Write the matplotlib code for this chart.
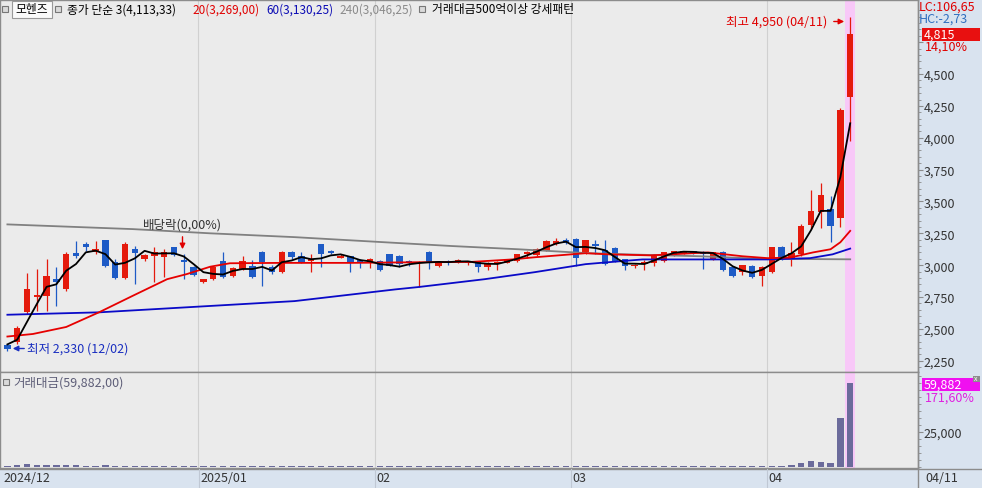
import numpy as np
import matplotlib.pyplot as plt
from matplotlib.patches import Rectangle

plt.rcParams['font.family'] = ['Noto Sans CJK KR', 'DejaVu Sans']

# 일봉 데이터 (2024/12/02 ~ 2025/04/11, 거래일 인덱스 0~86)
opens = [2370, 2395, 2630, 2750, 2760, 2890, 2810, 3095, 3170, 3105,
         3195, 3025, 2900, 3125, 3050, 3070, 3065, 3140, 3040, 2985,
         2870, 2890, 3030, 2915, 2970, 2995, 3100, 2985, 2945, 3100,
         3070, 3030, 3165, 3110, 3060, 3070, 3040, 3020, 3030, 3085,
         3075, 3035, 3020, 3100, 2990, 3030, 3025, 3015, 3025, 2985,
         3010, 3020, 3030, 3085, 3080, 3115, 3170, 3195, 3205, 3100,
         3165, 3120, 3135, 3045, 2990, 3009, 3015, 3030, 3075, 3090,
         3110, 3105, 3045, 3105, 2985, 2945, 2990, 2917, 2945, 3140,
         3053, 3087, 3317, 3419, 3440, 3368, 4320]
highs = [2378, 2520, 2940, 2970, 3050, 2985, 3100, 3190, 3180, 3190,
         3195, 3050, 3180, 3150, 3090, 3140, 3125, 3145, 3085, 2990,
         2895, 2990, 3100, 2985, 3070, 3040, 3110, 3000, 3110, 3115,
         3100, 3085, 3170, 3120, 3090, 3075, 3050, 3055, 3040, 3090,
         3080, 3040, 3030, 3110, 3027, 3040, 3045, 3035, 3027, 3025,
         3030, 3045, 3090, 3110, 3135, 3195, 3210, 3210, 3210, 3200,
         3200, 3200, 3140, 3050, 3010, 3040, 3085, 3105, 3115, 3115,
         3115, 3115, 3105, 3110, 2990, 3005, 3000, 2990, 3145, 3150,
         3182, 3323, 3592, 3645, 3545, 4233, 4950]
lows = [2330, 2380, 2620, 2640, 2640, 2680, 2800, 3060, 3110, 3085,
        2985, 2895, 2895, 2850, 3030, 2870, 2905, 3075, 2895, 2915,
        2862, 2880, 2900, 2910, 2965, 2900, 2835, 2930, 2940, 3050,
        3020, 2950, 2985, 3090, 3055, 2950, 2980, 2975, 2955, 2990,
        2985, 2990, 2830, 2970, 2985, 3000, 3015, 3005, 2948, 2965,
        2965, 3015, 3025, 3060, 3075, 3110, 3160, 3165, 2995, 3090,
        3085, 3000, 3025, 2960, 2980, 2965, 2990, 3025, 3070, 3087,
        3090, 2970, 3040, 2955, 2910, 2925, 2900, 2835, 2940, 3040,
        2995, 3070, 3284, 3289, 3179, 3300, 3975]
closes = [2345, 2510, 2810, 2765, 2915, 2870, 3085, 3072, 3145, 3125,
          2990, 2900, 3165, 3095, 3078, 3100, 3100, 3080, 3025, 2920,
          2890, 2985, 2905, 2975, 3030, 2905, 3025, 2945, 3100, 3065,
          3025, 3050, 3085, 3095, 3075, 3025, 3020, 3045, 2960, 2997,
          3008, 3017, 3025, 3025, 3027, 3020, 3040, 3030, 2983, 3020,
          3025, 3040, 3085, 3103, 3130, 3190, 3190, 3175, 3060, 3195,
          3148, 3008, 3035, 2995, 3005, 3027, 3080, 3100, 3110, 3108,
          3095, 3090, 3100, 2960, 2915, 3000, 2905, 2985, 3140, 3045,
          3093, 3305, 3423, 3550, 3305, 4220, 4815]
prev_closes = [2400, 2390]

# 거래대금 (백만원)
amounts = [800, 1300, 1700, 1400, 1200, 1100, 1200, 900, 700, 800,
           900, 700, 800, 700, 600, 700, 600, 600, 700, 600,
           600, 700, 600, 600, 700, 600, 700, 600, 700, 600,
           600, 600, 700, 600, 600, 600, 600, 600, 600, 700,
           600, 600, 700, 600, 600, 600, 600, 600, 600, 600,
           600, 600, 700, 600, 700, 700, 600, 600, 700, 600,
           600, 700, 600, 600, 600, 600, 700, 600, 600, 600,
           600, 600, 600, 700, 600, 600, 700, 600, 800, 700,
           1300, 2800, 4200, 3300, 2600, 34897, 59882]

# 이동평균선 (그림에서 읽은 값, 인덱스-값)
ma20_idx = [0, 2.6, 6, 9.4, 12.8, 16.3, 18.3, 20.7, 22.7, 27.8, 35, 41.9, 47.2,
            51.5, 53.8, 59, 61.3, 65.6, 71.5, 75, 77.6, 79.9, 82.2, 84, 85, 86]
ma20_val = [2440, 2460, 2515, 2632, 2760, 2890, 2930, 2988, 3015, 3018, 3018, 3023, 3025,
            3045, 3062, 3094, 3085, 3077, 3100, 3070, 3055, 3060, 3100, 3125, 3180, 3269]
ma60_idx = [0, 9.4, 20.7, 29.3, 39.6, 41.9, 48.7, 53.8, 59, 61.3, 64.8, 77.6, 81.9, 84.2, 86]
ma60_val = [2611, 2630, 2680, 2718, 2810, 2828, 2890, 2945, 3008, 3023, 3045, 3045, 3055, 3085, 3130]
ma240_idx = [0, 12.8, 20.7, 29.3, 39.6, 45.4, 52.1, 55.6, 59, 64.5, 70.7, 76.8, 86]
ma240_val = [3320, 3283, 3250, 3220, 3175, 3150, 3125, 3110, 3095, 3082, 3070, 3050, 3046]

month_starts = [20, 38, 58, 78]
month_labels = ['2025/01', '02', '03', '04']

W, H = 982, 489
UP, DOWN = '#E41A0C', '#1E5BC6'
BG = '#EBEBEB'
SIDE = '#D9E3EF'
FONT = 9
LEG = 8.5


def fx(x):
    return x / W


def fy(y):
    return 1 - y / H


def ftext(x, y, s, **kw):
    kw.setdefault('fontsize', FONT)
    kw.setdefault('va', 'center')
    return fig.text(fx(x), fy(y), s, **kw)


def frect(x0, y0, x1, y1, **kw):
    fig.add_artist(Rectangle((fx(x0), fy(y1)), (x1 - x0) / W, (y1 - y0) / H,
                             transform=fig.transFigure, **kw))


fig = plt.figure(figsize=(W / 100, H / 100), dpi=100, facecolor=SIDE)
ax = fig.add_axes([0, fy(372.7), 918 / W, 371.7 / H], facecolor=BG)
axv = fig.add_axes([0, fy(469), 918 / W, 96.3 / H], facecolor=BG)

n = len(closes)
idx = np.arange(n)
o = np.array(opens)
c = np.array(closes)
up = c >= o
col = np.where(up, UP, DOWN)

for a in (ax, axv):
    a.set_xlim(-0.755, 92.92)
    a.set_xticks([])
    for m in month_starts:
        a.axvline(m - 0.5, color='#D0D0D0', lw=0.8, zorder=0.5)
    a.axvspan(85.5, 86.5, color='#F8C8F8', zorder=0.6, lw=0)
    for s in a.spines.values():
        s.set_color('#8C8C8C')
        s.set_linewidth(1)

# 캔들
ax.vlines(idx, lows, highs, colors=col, lw=0.9, zorder=2)
body = np.maximum(np.abs(c - o), 8)
ax.bar(idx, body, bottom=np.minimum(o, c), width=0.65, color=col, lw=0, zorder=3)

# 이동평균선
ma3 = np.convolve(prev_closes + closes, np.ones(3) / 3, mode='valid')
ax.plot(ma240_idx, ma240_val, color='#808080', lw=1.3, zorder=4)
ax.plot(ma60_idx, ma60_val, color='#0A0AC8', lw=1.3, zorder=4)
ax.plot(ma20_idx, ma20_val, color='#E60000', lw=1.3, zorder=4)
ax.plot(idx, ma3, color='black', lw=1.3, zorder=5)

ax.set_ylim(2164, 5081)
ax.yaxis.tick_right()
ticks = list(range(2250, 4751, 250))
ax.set_yticks(ticks)
ax.set_yticklabels([f'{t:,}' if t <= 4500 else '' for t in ticks])
ax.set_yticks(range(2200, 5001, 50), minor=True)
ax.tick_params(axis='y', which='major', direction='out', length=3.5, pad=0.5,
               labelsize=FONT, colors='#8C8C8C', labelcolor='#333333')
ax.tick_params(axis='y', which='minor', direction='out', length=2, colors='#8C8C8C')

# 거래대금
axv.bar(idx, amounts, width=0.65, color='#6B6B9B', lw=0, zorder=3)
axv.set_ylim(-930, 67857)
axv.yaxis.tick_right()
axv.set_yticks([25000])
axv.set_yticklabels(['25,000'])
axv.set_yticks(range(0, 65001, 5000), minor=True)
axv.tick_params(axis='y', which='major', direction='out', length=3.5, pad=0.5,
                labelsize=FONT, colors='#8C8C8C', labelcolor='#333333')
axv.tick_params(axis='y', which='minor', direction='out', length=2, colors='#8C8C8C')

# 상단 범례
frect(2, 6.5, 8, 12.5, facecolor='#DADADA', edgecolor='#777777', lw=0.8)
frect(11.5, 1.5, 51.7, 18.5, facecolor='#FAFAFA', edgecolor='#999999', lw=0.8)
ftext(31.6, 10, '모헨즈', ha='center', color='black', fontsize=LEG)
frect(55, 6.5, 61, 12.5, facecolor='#DADADA', edgecolor='#777777', lw=0.8)
ftext(67, 10, '종가 단순 3(4,113,33)', color='black', fontsize=LEG)
ftext(192.5, 10, '20(3,269,00)', color='#E00000', fontsize=LEG)
ftext(266.7, 10, '60(3,130,25)', color='#0A0AB4', fontsize=LEG)
ftext(339.8, 10, '240(3,046,25)', color='#8A8A8A', fontsize=LEG)
frect(419, 6.5, 425, 12.5, facecolor='#DADADA', edgecolor='#777777', lw=0.8)
ftext(432, 10, '거래대금500억이상 강세패턴', color='black', fontsize=LEG)

# 주석
ftext(827, 22.5, '최고 4,950 (04/11)', ha='right', color='#E00000')
ax.annotate('', xy=(847, H - 22.5), xytext=(831, H - 22.5), xycoords='figure pixels',
            arrowprops=dict(arrowstyle='-|>', color='#E00000', lw=1, mutation_scale=8))
ftext(27, 349, '최저 2,330 (12/02)', ha='left', color='#1A2FC0')
ax.annotate('', xy=(10, H - 349.5), xytext=(27, H - 349.5), xycoords='figure pixels',
            arrowprops=dict(arrowstyle='-|>', color='#1A2FC0', lw=1, mutation_scale=8))
ftext(143, 225.5, '배당락(0,00%)', ha='left', color='#333333')
ax.annotate('', xy=(182.5, H - 253), xytext=(182.5, H - 235), xycoords='figure pixels',
            arrowprops=dict(arrowstyle='-|>', color='#E00000', lw=1, mutation_scale=8))

# 오른쪽 정보
ftext(919, 7.5, 'LC:106,65', color='#E00000')
ftext(919, 19.5, 'HC:-2,73', color='#2F6FBF')
frect(921.5, 29.3, 980, 41.7, facecolor='#E81010', lw=0)
ftext(924, 35.5, '4,815', color='white')
ftext(925, 47, '14,10%', color='#E00000')

frect(3, 380, 9, 386, facecolor='#DADADA', edgecolor='#777777', lw=0.8)
ftext(13, 383, '거래대금(59,882,00)', color='#5E5E78')
frect(921.5, 379, 980, 391.7, facecolor='#F010F0', lw=0)
ftext(924, 385.3, '59,882', color='white')
ftext(925, 398, '171,60%', color='#E020E0')
frect(972.5, 376.5, 979.5, 382.5, facecolor='#8C8C8C', lw=0)
ftext(976, 379.5, 'x', ha='center', color='white', fontsize=5)

# 날짜축
fig.add_artist(plt.Line2D([0, 1], [fy(469.5), fy(469.5)], color='#8C8C8C', lw=1,
                          transform=fig.transFigure))
fig.add_artist(plt.Line2D([fx(918), fx(918)], [0, 1], color='#8C8C8C', lw=1,
                          transform=fig.transFigure))
ftext(3, 479, '2024/12', color='#333333')
for m, lab in zip(month_starts, month_labels):
    xpix = 7.4 + 9.8 * (m - 0.5)
    fig.add_artist(plt.Line2D([fx(xpix), fx(xpix)], [0, fy(470)], color='#C0C8D4', lw=0.8,
                              transform=fig.transFigure))
    ftext(xpix + 1.5, 479, lab, color='#333333')
ftext(925, 479, '04/11', color='#333333')

fig.savefig('out.png', dpi=100, facecolor=SIDE)
